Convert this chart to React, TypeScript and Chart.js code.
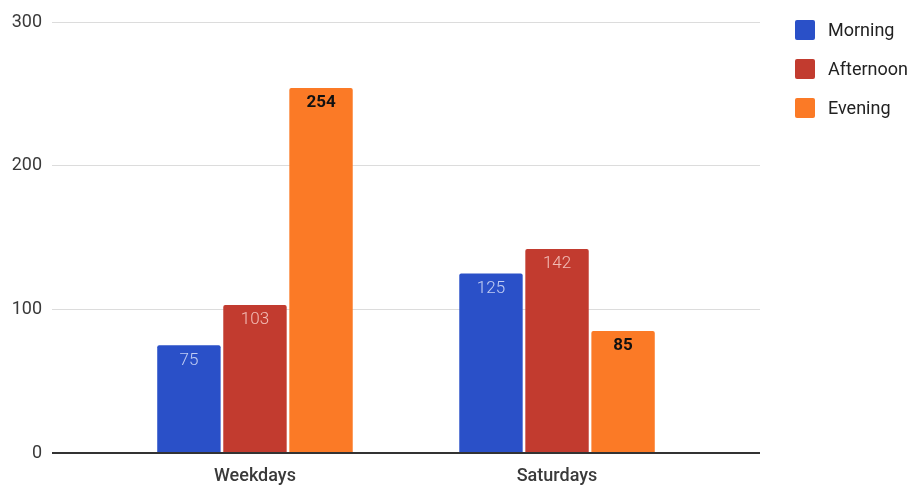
import React, { useEffect, useRef } from "react";
import { Chart, registerables, CategoryScale } from "chart.js";

Chart.register(...registerables);

class PaddedCategory extends CategoryScale {
  static id = "paddedCategory";
  static defaults = CategoryScale.defaults;
  configure() {
    super.configure();
    const extra = (this.options as any).extraOffset ?? 0;
    const off = (this.options as any).offset ? 0.5 : 0;
    (this as any)._startValue = (this.min as number) - off - extra;
    (this as any)._valueRange = Math.max((this.max as number) - (this.min as number), 0) + 2 * off + 2 * extra;
  }
}
Chart.register(PaddedCategory as any);

const categories = ["Weekdays", "Saturdays"];
const seriesNames = ["Morning", "Afternoon", "Evening"];
const morning = [75, 125];
const afternoon = [103, 142];
const evening = [254, 85];
const yTicks = [0, 100, 200, 300];

const colors = ["#2a50c8", "#c23b2f", "#fb7a26"];
const labelColors = ["rgba(235,240,255,0.78)", "rgba(255,225,220,0.78)", "#111111"];
const labelWeights = ["300", "300", "bold"];

const FONT = "Roboto, 'Noto Sans', sans-serif";

const valueLabels = {
  id: "valueLabels",
  afterDatasetsDraw(chart: any) {
    const ctx = chart.ctx;
    chart.data.datasets.forEach((ds: any, i: number) => {
      const meta = chart.getDatasetMeta(i);
      meta.data.forEach((el: any, j: number) => {
        ctx.save();
        ctx.font = `${labelWeights[i]} 17px ${FONT}`;
        ctx.fillStyle = labelColors[i];
        ctx.textAlign = "center";
        ctx.textBaseline = "middle";
        ctx.fillText(String(ds.data[j]), el.x, el.y + 15);
        ctx.restore();
      });
    });
  },
};

const sideLegend = {
  id: "sideLegend",
  afterDraw(chart: any) {
    const ctx = chart.ctx;
    const x0 = chart.chartArea.right + 35;
    chart.data.datasets.forEach((ds: any, i: number) => {
      const cy = 30 + i * 39;
      ctx.save();
      ctx.fillStyle = ds.backgroundColor;
      ctx.beginPath();
      (ctx as any).roundRect(x0, cy - 10, 20, 20, 2);
      ctx.fill();
      ctx.font = `18px ${FONT}`;
      ctx.fillStyle = "#222222";
      ctx.textAlign = "left";
      ctx.textBaseline = "middle";
      ctx.fillText(ds.label, x0 + 33, cy + 1);
      ctx.restore();
    });
  },
};

export default function App() {
  const ref = useRef<HTMLCanvasElement>(null);
  useEffect(() => {
    if (!ref.current) return;
    const seriesValues = [morning, afternoon, evening];
    const chart = new Chart(ref.current, {
      type: "bar",
      data: {
        labels: categories,
        datasets: seriesNames.map((name, i) => ({
          label: name,
          data: seriesValues[i],
          backgroundColor: colors[i],
          borderRadius: 2,
          borderSkipped: "bottom",
          categoryPercentage: 0.656,
          barPercentage: 0.96,
        })),
      },
      options: {
        animation: false,
        responsive: false,
        maintainAspectRatio: false,
        layout: { padding: { left: 8, right: 155, top: 22, bottom: 4 } },
        plugins: { legend: { display: false }, tooltip: { enabled: false } },
        scales: {
          x: {
            type: "paddedCategory" as any,
            extraOffset: 0.172,
            grid: { display: false },
            border: { display: false },
            afterFit: (scale: any) => {
              scale.height = 32;
            },
            ticks: {
              color: "#3a3a3a",
              font: { family: FONT, size: 18, weight: "500" },
              padding: 5,
            },
          } as any,
          y: {
            min: 0,
            max: 300,
            afterBuildTicks: (scale: any) => {
              scale.ticks = yTicks.map((v) => ({ value: v }));
            },
            afterFit: (scale: any) => {
              scale.width = 44;
            },
            border: { display: false },
            grid: {
              drawTicks: false,
              color: (c: any) => (c.tick && c.tick.value === 0 ? "#333333" : "#dcdcdc"),
              lineWidth: (c: any) => (c.tick && c.tick.value === 0 ? 2 : 1),
            },
            ticks: {
              color: "#3a3a3a",
              font: { family: FONT, size: 18 },
              padding: 10,
            },
          },
        },
      },
      plugins: [valueLabels, sideLegend],
    });
    return () => chart.destroy();
  }, []);
  return (
    <div style={{ position: "fixed", left: 0, top: 0, width: 915, height: 489, background: "#fff" }}>
      <canvas ref={ref} width={915} height={489} style={{ width: 915, height: 489 }} />
    </div>
  );
}
